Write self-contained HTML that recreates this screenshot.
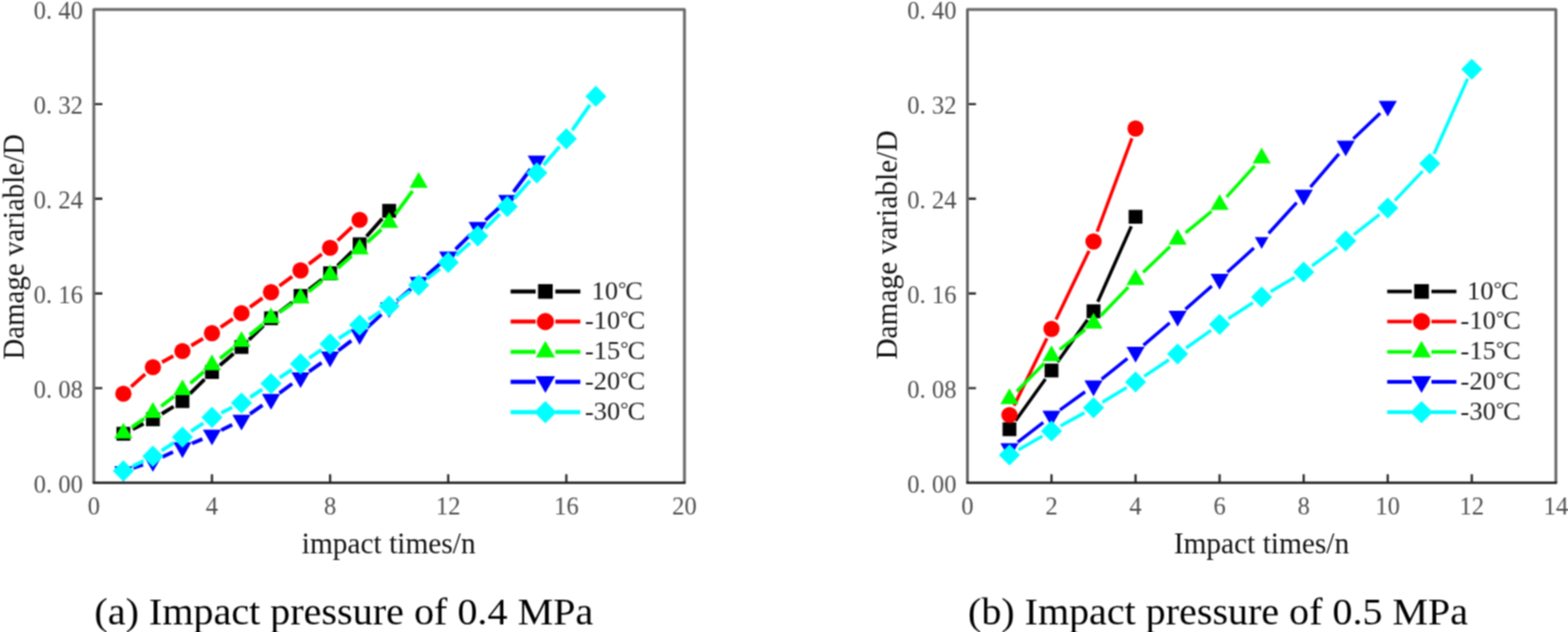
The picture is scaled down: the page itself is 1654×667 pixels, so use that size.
<!DOCTYPE html>
<html><head><meta charset="utf-8"><title>Damage variable vs impact times</title>
<style>html,body{margin:0;padding:0;background:#fff;}body{width:1654px;height:667px;overflow:hidden;}svg{display:block;}</style>
</head><body>
<svg width="1654" height="667" viewBox="0 0 1654 667" font-family='"Liberation Serif", "Times New Roman", serif'>
<defs><filter id="soft" x="0" y="0" width="1654" height="667" filterUnits="userSpaceOnUse" color-interpolation-filters="sRGB"><feConvolveMatrix order="3" kernelMatrix="1 2 1 2 4 2 1 2 1" divisor="16" edgeMode="duplicate"/></filter></defs>
<rect width="1654" height="667" fill="#fff"/>
<g filter="url(#soft)">
<rect width="1654" height="667" fill="#fff"/>
<path d="M223.60 509.50V500.50 M348.20 509.50V500.50 M472.80 509.50V500.50 M597.40 509.50V500.50 M99.00 409.60H108.00 M99.00 309.70H108.00 M99.00 209.80H108.00 M99.00 109.90H108.00" stroke="#2e2e2e" stroke-width="2.4" fill="none"/>
<path d="M99.00 509.50V10.00H722.00V509.50" stroke="#686868" stroke-width="3.0" fill="none" stroke-linejoin="round"/>
<path d="M97.80 509.50H723.20" stroke="#1e1e1e" stroke-width="2.4" fill="none"/>
<text transform="translate(99.00 542.9) scale(1 1.06)" font-size="26" text-anchor="middle" fill="#505050">0</text>
<text transform="translate(223.60 542.9) scale(1 1.06)" font-size="26" text-anchor="middle" fill="#505050">4</text>
<text transform="translate(348.20 542.9) scale(1 1.06)" font-size="26" text-anchor="middle" fill="#505050">8</text>
<text transform="translate(472.80 542.9) scale(1 1.06)" font-size="26" text-anchor="middle" fill="#505050">12</text>
<text transform="translate(597.40 542.9) scale(1 1.06)" font-size="26" text-anchor="middle" fill="#505050">16</text>
<text transform="translate(722.00 542.9) scale(1 1.06)" font-size="26" text-anchor="middle" fill="#505050">20</text>
<text transform="translate(87.50 519.70) scale(1 1.06)" font-size="26" text-anchor="end" fill="#505050" xml:space="preserve">0. 00</text>
<text transform="translate(87.50 419.80) scale(1 1.06)" font-size="26" text-anchor="end" fill="#505050" xml:space="preserve">0. 08</text>
<text transform="translate(87.50 319.90) scale(1 1.06)" font-size="26" text-anchor="end" fill="#505050" xml:space="preserve">0. 16</text>
<text transform="translate(87.50 220.00) scale(1 1.06)" font-size="26" text-anchor="end" fill="#505050" xml:space="preserve">0. 24</text>
<text transform="translate(87.50 120.10) scale(1 1.06)" font-size="26" text-anchor="end" fill="#505050" xml:space="preserve">0. 32</text>
<text transform="translate(87.50 20.20) scale(1 1.06)" font-size="26" text-anchor="end" fill="#505050" xml:space="preserve">0. 40</text>
<text x="410.00" y="584.2" font-size="31" text-anchor="middle" fill="#121212">impact times/n</text>
<text transform="translate(25.00 260.50) rotate(-90)" font-size="30.5" text-anchor="middle" fill="#121212">Damage variable/D</text>
<text x="99.60" y="658.5" font-size="40" fill="#000" textLength="526.2" lengthAdjust="spacingAndGlyphs">(a) Impact pressure of 0.4 MPa</text>
<path d="M140.02 452.95L151.43 447.35M170.66 436.73L183.09 429.07M200.28 415.58L215.77 400.32M231.99 385.49L246.36 373.31M262.64 358.53L278.01 343.57M294.67 329.26L308.28 318.94M325.78 305.60L339.47 295.10M356.05 280.69L371.50 265.51M386.63 249.55L403.22 230.75" stroke="#000000" stroke-width="3.9" stroke-linecap="butt" fill="none"/>
<rect x="122.85" y="450.50" width="14.60" height="14.60" fill="#000000"/>
<rect x="154.00" y="435.20" width="14.60" height="14.60" fill="#000000"/>
<rect x="185.15" y="416.00" width="14.60" height="14.60" fill="#000000"/>
<rect x="216.30" y="385.30" width="14.60" height="14.60" fill="#000000"/>
<rect x="247.45" y="358.90" width="14.60" height="14.60" fill="#000000"/>
<rect x="278.60" y="328.60" width="14.60" height="14.60" fill="#000000"/>
<rect x="309.75" y="305.00" width="14.60" height="14.60" fill="#000000"/>
<rect x="340.90" y="281.10" width="14.60" height="14.60" fill="#000000"/>
<rect x="372.05" y="250.50" width="14.60" height="14.60" fill="#000000"/>
<rect x="403.20" y="215.20" width="14.60" height="14.60" fill="#000000"/>
<path d="M138.33 408.15L153.12 394.85M170.96 382.23L182.79 375.77M201.85 364.79L214.20 357.31M232.71 345.43L245.64 336.67M263.71 324.12L276.94 314.68M294.75 301.77L308.20 291.83M325.79 278.62L339.46 268.18M356.19 253.94L371.36 239.56" stroke="#ff0000" stroke-width="3.9" stroke-linecap="butt" fill="none"/>
<circle cx="130.15" cy="415.50" r="8.60" fill="#ff0000"/>
<circle cx="161.30" cy="387.50" r="8.60" fill="#ff0000"/>
<circle cx="192.45" cy="370.50" r="8.60" fill="#ff0000"/>
<circle cx="223.60" cy="351.60" r="8.60" fill="#ff0000"/>
<circle cx="254.75" cy="330.50" r="8.60" fill="#ff0000"/>
<circle cx="285.90" cy="308.30" r="8.60" fill="#ff0000"/>
<circle cx="317.05" cy="285.30" r="8.60" fill="#ff0000"/>
<circle cx="348.20" cy="261.50" r="8.60" fill="#ff0000"/>
<circle cx="379.35" cy="232.00" r="8.60" fill="#ff0000"/>
<path d="M139.15 450.97L152.30 441.73M170.03 428.70L183.72 418.20M200.85 404.40L215.20 392.30M232.22 378.37L246.13 367.33M263.33 353.61L277.32 342.39M295.03 329.37L307.92 320.73M325.68 307.78L339.57 296.82M356.50 282.78L371.05 270.12M387.53 255.55L402.32 242.25M417.03 226.05L435.12 201.55" stroke="#00ff00" stroke-width="3.9" stroke-linecap="butt" fill="none"/>
<polygon points="130.15,446.20 120.54,462.85 139.76,462.85" fill="#00ff00"/>
<polygon points="161.30,424.30 151.69,440.95 170.91,440.95" fill="#00ff00"/>
<polygon points="192.45,400.40 182.84,417.05 202.06,417.05" fill="#00ff00"/>
<polygon points="223.60,374.10 213.99,390.75 233.21,390.75" fill="#00ff00"/>
<polygon points="254.75,349.40 245.14,366.05 264.36,366.05" fill="#00ff00"/>
<polygon points="285.90,324.40 276.29,341.05 295.51,341.05" fill="#00ff00"/>
<polygon points="317.05,303.50 307.44,320.15 326.66,320.15" fill="#00ff00"/>
<polygon points="348.20,278.90 338.59,295.55 357.81,295.55" fill="#00ff00"/>
<polygon points="379.35,251.80 369.74,268.45 388.96,268.45" fill="#00ff00"/>
<polygon points="410.50,223.80 400.89,240.45 420.11,240.45" fill="#00ff00"/>
<polygon points="441.65,181.60 432.04,198.25 451.26,198.25" fill="#00ff00"/>
<path d="M140.57 493.99L150.88 490.51M171.26 482.33L182.49 477.07M202.55 468.05L213.50 463.35M233.41 454.02L244.94 448.18M263.76 436.89L276.89 427.71M294.76 414.88L308.19 405.02M326.05 392.17L339.20 382.93M356.97 369.96L370.58 359.64M387.47 345.57L402.38 331.93M418.85 317.34L433.30 304.96M449.99 290.63L464.46 278.17M480.57 263.22L496.18 247.58M512.07 232.37L526.98 218.73M541.69 202.49L559.66 178.51" stroke="#0000ff" stroke-width="3.9" stroke-linecap="butt" fill="none"/>
<polygon points="130.15,508.60 120.54,491.95 139.76,491.95" fill="#0000ff"/>
<polygon points="161.30,498.10 151.69,481.45 170.91,481.45" fill="#0000ff"/>
<polygon points="192.45,483.50 182.84,466.85 202.06,466.85" fill="#0000ff"/>
<polygon points="223.60,470.10 213.99,453.45 233.21,453.45" fill="#0000ff"/>
<polygon points="254.75,454.30 245.14,437.65 264.36,437.65" fill="#0000ff"/>
<polygon points="285.90,432.50 276.29,415.85 295.51,415.85" fill="#0000ff"/>
<polygon points="317.05,409.60 307.44,392.95 326.66,392.95" fill="#0000ff"/>
<polygon points="348.20,387.70 338.59,371.05 357.81,371.05" fill="#0000ff"/>
<polygon points="379.35,364.10 369.74,347.45 388.96,347.45" fill="#0000ff"/>
<polygon points="410.50,335.60 400.89,318.95 420.11,318.95" fill="#0000ff"/>
<polygon points="441.65,308.90 432.04,292.25 451.26,292.25" fill="#0000ff"/>
<polygon points="472.80,282.10 463.19,265.45 482.41,265.45" fill="#0000ff"/>
<polygon points="503.95,250.90 494.34,234.25 513.56,234.25" fill="#0000ff"/>
<polygon points="535.10,222.40 525.49,205.75 544.71,205.75" fill="#0000ff"/>
<polygon points="566.25,180.80 556.64,164.15 575.86,164.15" fill="#0000ff"/>
<path d="M140.00 492.10L151.45 486.40M170.53 475.52L183.22 467.28M201.60 455.19L214.45 446.61M233.49 435.68L244.86 430.12M263.94 419.25L276.71 410.85M295.05 398.69L307.90 390.11M326.17 377.85L339.08 369.15M357.46 357.06L370.09 348.94M388.61 337.06L401.24 328.94M419.49 316.65L432.66 307.35M450.36 294.29L464.09 283.71M480.98 269.65L495.77 256.35M511.75 241.24L527.30 225.76M542.36 209.73L558.99 190.77M573.45 174.18L590.20 154.82M603.68 137.47L622.27 110.73" stroke="#00ffff" stroke-width="3.9" stroke-linecap="butt" fill="none"/>
<polygon points="130.15,485.84 141.31,497.00 130.15,508.16 118.99,497.00" fill="#00ffff"/>
<polygon points="161.30,470.34 172.46,481.50 161.30,492.66 150.14,481.50" fill="#00ffff"/>
<polygon points="192.45,450.14 203.61,461.30 192.45,472.46 181.29,461.30" fill="#00ffff"/>
<polygon points="223.60,429.34 234.76,440.50 223.60,451.66 212.44,440.50" fill="#00ffff"/>
<polygon points="254.75,414.14 265.91,425.30 254.75,436.46 243.59,425.30" fill="#00ffff"/>
<polygon points="285.90,393.64 297.06,404.80 285.90,415.96 274.74,404.80" fill="#00ffff"/>
<polygon points="317.05,372.84 328.21,384.00 317.05,395.16 305.89,384.00" fill="#00ffff"/>
<polygon points="348.20,351.84 359.36,363.00 348.20,374.16 337.04,363.00" fill="#00ffff"/>
<polygon points="379.35,331.84 390.51,343.00 379.35,354.16 368.19,343.00" fill="#00ffff"/>
<polygon points="410.50,311.84 421.66,323.00 410.50,334.16 399.34,323.00" fill="#00ffff"/>
<polygon points="441.65,289.84 452.81,301.00 441.65,312.16 430.49,301.00" fill="#00ffff"/>
<polygon points="472.80,265.84 483.96,277.00 472.80,288.16 461.64,277.00" fill="#00ffff"/>
<polygon points="503.95,237.84 515.11,249.00 503.95,260.16 492.79,249.00" fill="#00ffff"/>
<polygon points="535.10,206.84 546.26,218.00 535.10,229.16 523.94,218.00" fill="#00ffff"/>
<polygon points="566.25,171.34 577.41,182.50 566.25,193.66 555.09,182.50" fill="#00ffff"/>
<polygon points="597.40,135.34 608.56,146.50 597.40,157.66 586.24,146.50" fill="#00ffff"/>
<polygon points="628.55,90.54 639.71,101.70 628.55,112.86 617.39,101.70" fill="#00ffff"/>
<path d="M538.60 307.60H565.00M585.80 307.60H612.20" stroke="#000000" stroke-width="4.3" stroke-linecap="butt" fill="none"/>
<rect x="567.56" y="299.86" width="15.48" height="15.48" fill="#000000"/>
<text x="624.00" y="315.60" font-size="28" fill="#1e1e1e">10<tspan font-size="22" dy="-4">°</tspan><tspan dx="-1.2" dy="4">C</tspan></text>
<path d="M538.60 339.40H565.00M585.80 339.40H612.20" stroke="#ff0000" stroke-width="4.3" stroke-linecap="butt" fill="none"/>
<circle cx="575.30" cy="339.40" r="9.12" fill="#ff0000"/>
<text x="617.00" y="347.40" font-size="28" fill="#1e1e1e">-10<tspan font-size="22" dy="-4">°</tspan><tspan dx="-1.2" dy="4">C</tspan></text>
<path d="M538.60 371.40H565.00M585.80 371.40H612.20" stroke="#00ff00" stroke-width="4.3" stroke-linecap="butt" fill="none"/>
<polygon points="575.30,359.64 565.11,377.28 585.49,377.28" fill="#00ff00"/>
<text x="617.00" y="379.40" font-size="28" fill="#1e1e1e">-15<tspan font-size="22" dy="-4">°</tspan><tspan dx="-1.2" dy="4">C</tspan></text>
<path d="M538.60 403.00H565.00M585.80 403.00H612.20" stroke="#0000ff" stroke-width="4.3" stroke-linecap="butt" fill="none"/>
<polygon points="575.30,414.76 565.11,397.12 585.49,397.12" fill="#0000ff"/>
<text x="617.00" y="411.00" font-size="28" fill="#1e1e1e">-20<tspan font-size="22" dy="-4">°</tspan><tspan dx="-1.2" dy="4">C</tspan></text>
<path d="M538.60 435.00H565.00M585.80 435.00H612.20" stroke="#00ffff" stroke-width="4.3" stroke-linecap="butt" fill="none"/>
<polygon points="575.30,423.17 587.13,435.00 575.30,446.83 563.47,435.00" fill="#00ffff"/>
<text x="617.00" y="443.00" font-size="28" fill="#1e1e1e">-30<tspan font-size="22" dy="-4">°</tspan><tspan dx="-1.2" dy="4">C</tspan></text>
<path d="M1109.17 509.50V500.50 M1197.84 509.50V500.50 M1286.51 509.50V500.50 M1375.19 509.50V500.50 M1463.86 509.50V500.50 M1552.53 509.50V500.50 M1020.50 409.60H1029.50 M1020.50 309.70H1029.50 M1020.50 209.80H1029.50 M1020.50 109.90H1029.50" stroke="#2e2e2e" stroke-width="2.4" fill="none"/>
<path d="M1020.50 509.50V10.00H1641.20V509.50" stroke="#686868" stroke-width="3.0" fill="none" stroke-linejoin="round"/>
<path d="M1019.30 509.50H1642.40" stroke="#1e1e1e" stroke-width="2.4" fill="none"/>
<text transform="translate(1020.50 542.9) scale(1 1.06)" font-size="26" text-anchor="middle" fill="#505050">0</text>
<text transform="translate(1109.17 542.9) scale(1 1.06)" font-size="26" text-anchor="middle" fill="#505050">2</text>
<text transform="translate(1197.84 542.9) scale(1 1.06)" font-size="26" text-anchor="middle" fill="#505050">4</text>
<text transform="translate(1286.51 542.9) scale(1 1.06)" font-size="26" text-anchor="middle" fill="#505050">6</text>
<text transform="translate(1375.19 542.9) scale(1 1.06)" font-size="26" text-anchor="middle" fill="#505050">8</text>
<text transform="translate(1463.86 542.9) scale(1 1.06)" font-size="26" text-anchor="middle" fill="#505050">10</text>
<text transform="translate(1552.53 542.9) scale(1 1.06)" font-size="26" text-anchor="middle" fill="#505050">12</text>
<text transform="translate(1641.20 542.9) scale(1 1.06)" font-size="26" text-anchor="middle" fill="#505050">14</text>
<text transform="translate(1009.00 519.70) scale(1 1.06)" font-size="26" text-anchor="end" fill="#505050" xml:space="preserve">0. 00</text>
<text transform="translate(1009.00 419.80) scale(1 1.06)" font-size="26" text-anchor="end" fill="#505050" xml:space="preserve">0. 08</text>
<text transform="translate(1009.00 319.90) scale(1 1.06)" font-size="26" text-anchor="end" fill="#505050" xml:space="preserve">0. 16</text>
<text transform="translate(1009.00 220.00) scale(1 1.06)" font-size="26" text-anchor="end" fill="#505050" xml:space="preserve">0. 24</text>
<text transform="translate(1009.00 120.10) scale(1 1.06)" font-size="26" text-anchor="end" fill="#505050" xml:space="preserve">0. 32</text>
<text transform="translate(1009.00 20.20) scale(1 1.06)" font-size="26" text-anchor="end" fill="#505050" xml:space="preserve">0. 40</text>
<text x="1330.70" y="584.2" font-size="31" text-anchor="middle" fill="#121212">Impact times/n</text>
<text transform="translate(945.70 258.60) rotate(-90)" font-size="31" text-anchor="middle" fill="#121212">Damage variable/D</text>
<text x="1021.10" y="658.5" font-size="40" fill="#000" textLength="527.5" lengthAdjust="spacingAndGlyphs">(b) Impact pressure of 0.5 MPa</text>
<path d="M1071.23 444.05L1102.77 399.95M1115.54 382.03L1147.14 337.47M1157.98 318.45L1193.37 238.85" stroke="#000000" stroke-width="3.5" stroke-linecap="butt" fill="none"/>
<rect x="1057.54" y="445.70" width="14.60" height="14.60" fill="#000000"/>
<rect x="1101.87" y="383.70" width="14.60" height="14.60" fill="#000000"/>
<rect x="1146.21" y="321.20" width="14.60" height="14.60" fill="#000000"/>
<rect x="1190.54" y="221.50" width="14.60" height="14.60" fill="#000000"/>
<path d="M1069.66 428.11L1104.35 356.99M1113.93 337.18L1148.74 264.72M1157.34 244.49L1194.01 145.91" stroke="#ff0000" stroke-width="3.5" stroke-linecap="butt" fill="none"/>
<circle cx="1064.84" cy="438.00" r="8.60" fill="#ff0000"/>
<circle cx="1109.17" cy="347.10" r="8.60" fill="#ff0000"/>
<circle cx="1153.51" cy="254.80" r="8.60" fill="#ff0000"/>
<circle cx="1197.84" cy="135.60" r="8.60" fill="#ff0000"/>
<path d="M1072.54 413.05L1101.47 383.55M1117.84 368.93L1144.84 347.87M1161.14 333.18L1190.21 303.02M1205.79 287.50L1234.23 260.30M1250.65 245.69L1278.04 223.01M1293.89 207.84L1323.48 175.06" stroke="#00ff00" stroke-width="3.5" stroke-linecap="butt" fill="none"/>
<polygon points="1064.84,409.80 1055.23,426.45 1074.45,426.45" fill="#00ff00"/>
<polygon points="1109.17,364.60 1099.56,381.25 1118.78,381.25" fill="#00ff00"/>
<polygon points="1153.51,330.00 1143.90,346.65 1163.12,346.65" fill="#00ff00"/>
<polygon points="1197.84,284.00 1188.23,300.65 1207.45,300.65" fill="#00ff00"/>
<polygon points="1242.18,241.60 1232.57,258.25 1251.79,258.25" fill="#00ff00"/>
<polygon points="1286.51,204.90 1276.90,221.55 1296.12,221.55" fill="#00ff00"/>
<polygon points="1330.85,155.80 1321.24,172.45 1340.46,172.45" fill="#00ff00"/>
<path d="M1073.54 466.67L1100.47 445.83M1118.09 432.66L1144.59 413.54M1162.09 400.22L1189.26 378.48M1206.19 364.44L1233.83 340.76M1250.44 326.33L1278.26 301.87M1294.66 287.21L1322.70 261.79M1338.26 246.27L1367.77 213.93M1382.34 197.44L1412.37 162.36M1427.51 146.44L1455.87 119.56" stroke="#0000ff" stroke-width="3.5" stroke-linecap="butt" fill="none"/>
<polygon points="1064.84,484.50 1055.23,467.85 1074.45,467.85" fill="#0000ff"/>
<polygon points="1109.17,450.20 1099.56,433.55 1118.78,433.55" fill="#0000ff"/>
<polygon points="1153.51,418.20 1143.90,401.55 1163.12,401.55" fill="#0000ff"/>
<polygon points="1197.84,382.70 1188.23,366.05 1207.45,366.05" fill="#0000ff"/>
<polygon points="1242.18,344.70 1232.57,328.05 1251.79,328.05" fill="#0000ff"/>
<polygon points="1286.51,305.70 1276.90,289.05 1296.12,289.05" fill="#0000ff"/>
<polygon points="1330.85,262.72 1323.64,250.24 1338.06,250.24" fill="#0000ff"/>
<polygon points="1375.19,216.90 1365.58,200.25 1384.80,200.25" fill="#0000ff"/>
<polygon points="1419.52,165.10 1409.91,148.45 1429.13,148.45" fill="#0000ff"/>
<polygon points="1463.86,123.10 1454.25,106.45 1473.47,106.45" fill="#0000ff"/>
<path d="M1074.39 474.75L1099.62 460.35M1118.79 449.56L1143.89 435.64M1162.89 424.56L1188.46 408.94M1206.99 397.09L1233.03 379.71M1251.16 367.26L1277.53 348.64M1295.73 336.29L1321.63 319.41M1340.32 307.80L1365.72 292.80M1384.02 280.64L1410.69 260.86M1428.18 247.52L1455.19 226.38M1471.41 211.60L1500.64 180.60M1512.67 162.55L1548.05 83.15" stroke="#00ffff" stroke-width="3.5" stroke-linecap="butt" fill="none"/>
<polygon points="1064.84,469.04 1076.00,480.20 1064.84,491.36 1053.68,480.20" fill="#00ffff"/>
<polygon points="1109.17,443.74 1120.33,454.90 1109.17,466.06 1098.01,454.90" fill="#00ffff"/>
<polygon points="1153.51,419.14 1164.67,430.30 1153.51,441.46 1142.35,430.30" fill="#00ffff"/>
<polygon points="1197.84,392.04 1209.00,403.20 1197.84,414.36 1186.68,403.20" fill="#00ffff"/>
<polygon points="1242.18,362.44 1253.34,373.60 1242.18,384.76 1231.02,373.60" fill="#00ffff"/>
<polygon points="1286.51,331.14 1297.67,342.30 1286.51,353.46 1275.35,342.30" fill="#00ffff"/>
<polygon points="1330.85,302.24 1342.01,313.40 1330.85,324.56 1319.69,313.40" fill="#00ffff"/>
<polygon points="1375.19,276.04 1386.35,287.20 1375.19,298.36 1364.03,287.20" fill="#00ffff"/>
<polygon points="1419.52,243.14 1430.68,254.30 1419.52,265.46 1408.36,254.30" fill="#00ffff"/>
<polygon points="1463.86,208.44 1475.02,219.60 1463.86,230.76 1452.70,219.60" fill="#00ffff"/>
<polygon points="1508.19,161.44 1519.35,172.60 1508.19,183.76 1497.03,172.60" fill="#00ffff"/>
<polygon points="1552.53,61.94 1563.69,73.10 1552.53,84.26 1541.37,73.10" fill="#00ffff"/>
<path d="M1463.30 307.60H1489.20M1510.00 307.60H1536.30" stroke="#000000" stroke-width="3.9" stroke-linecap="butt" fill="none"/>
<rect x="1491.76" y="299.86" width="15.48" height="15.48" fill="#000000"/>
<text x="1547.60" y="315.60" font-size="28" fill="#1e1e1e">10<tspan font-size="22" dy="-4">°</tspan><tspan dx="-1.2" dy="4">C</tspan></text>
<path d="M1463.30 339.40H1489.20M1510.00 339.40H1536.30" stroke="#ff0000" stroke-width="3.9" stroke-linecap="butt" fill="none"/>
<circle cx="1499.50" cy="339.40" r="9.12" fill="#ff0000"/>
<text x="1540.60" y="347.40" font-size="28" fill="#1e1e1e">-10<tspan font-size="22" dy="-4">°</tspan><tspan dx="-1.2" dy="4">C</tspan></text>
<path d="M1463.30 371.40H1489.20M1510.00 371.40H1536.30" stroke="#00ff00" stroke-width="3.9" stroke-linecap="butt" fill="none"/>
<polygon points="1499.50,359.64 1489.31,377.28 1509.69,377.28" fill="#00ff00"/>
<text x="1540.60" y="379.40" font-size="28" fill="#1e1e1e">-15<tspan font-size="22" dy="-4">°</tspan><tspan dx="-1.2" dy="4">C</tspan></text>
<path d="M1463.30 403.00H1489.20M1510.00 403.00H1536.30" stroke="#0000ff" stroke-width="3.9" stroke-linecap="butt" fill="none"/>
<polygon points="1499.50,414.76 1489.31,397.12 1509.69,397.12" fill="#0000ff"/>
<text x="1540.60" y="411.00" font-size="28" fill="#1e1e1e">-20<tspan font-size="22" dy="-4">°</tspan><tspan dx="-1.2" dy="4">C</tspan></text>
<path d="M1463.30 435.00H1489.20M1510.00 435.00H1536.30" stroke="#00ffff" stroke-width="3.9" stroke-linecap="butt" fill="none"/>
<polygon points="1499.50,423.17 1511.33,435.00 1499.50,446.83 1487.67,435.00" fill="#00ffff"/>
<text x="1540.60" y="443.00" font-size="28" fill="#1e1e1e">-30<tspan font-size="22" dy="-4">°</tspan><tspan dx="-1.2" dy="4">C</tspan></text>
</g>
</svg>
</body></html>
